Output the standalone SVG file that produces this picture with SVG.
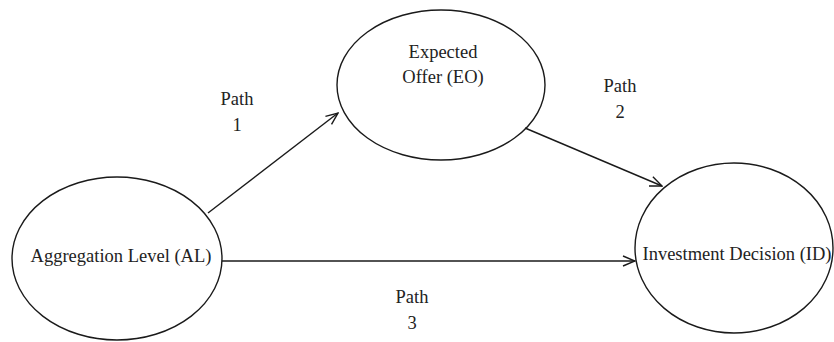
<svg xmlns="http://www.w3.org/2000/svg" width="834" height="342" viewBox="0 0 834 342">
<style>
.n{fill:#fff;stroke:#1a1a1a;stroke-width:1.4}
.t{font-family:'Liberation Serif','DejaVu Serif',serif;font-size:18.5px;fill:#222;text-anchor:middle}
.c{stroke:#1a1a1a;stroke-width:1.4;fill:none;marker-end:url(#a)}
</style>
<defs>
<marker id="a" viewBox="0 0 14 12" refX="13" refY="6" markerWidth="14" markerHeight="12" markerUnits="userSpaceOnUse" orient="auto">
<path d="M1,1 L13,6 L1,11" fill="none" stroke="#1a1a1a" stroke-width="1.4"/>
</marker>
</defs>
<g id="AL"><ellipse class="n" cx="117" cy="258.5" rx="105" ry="81.5"/><text class="t" x="121" y="262">Aggregation Level (AL)</text></g>
<g id="EO"><ellipse class="n" cx="441" cy="85" rx="104" ry="75"/><text class="t" x="443" y="58">Expected</text><text class="t" x="443" y="83">Offer (EO)</text></g>
<g id="ID"><ellipse class="n" cx="734" cy="248" rx="99" ry="85"/><text class="t" x="737" y="260">Investment Decision (ID)</text></g>
<g id="connectors">
<path class="c" d="M208,213 L338,113"/>
<path class="c" d="M525,128 L662,186"/>
<path class="c" d="M222,261 L635,261"/>
</g>
<g id="labels">
<text class="t" x="237" y="105">Path</text><text class="t" x="237" y="131">1</text>
<text class="t" x="620" y="92">Path</text><text class="t" x="620" y="118">2</text>
<text class="t" x="412" y="303">Path</text><text class="t" x="412" y="329">3</text>
</g>
</svg>
